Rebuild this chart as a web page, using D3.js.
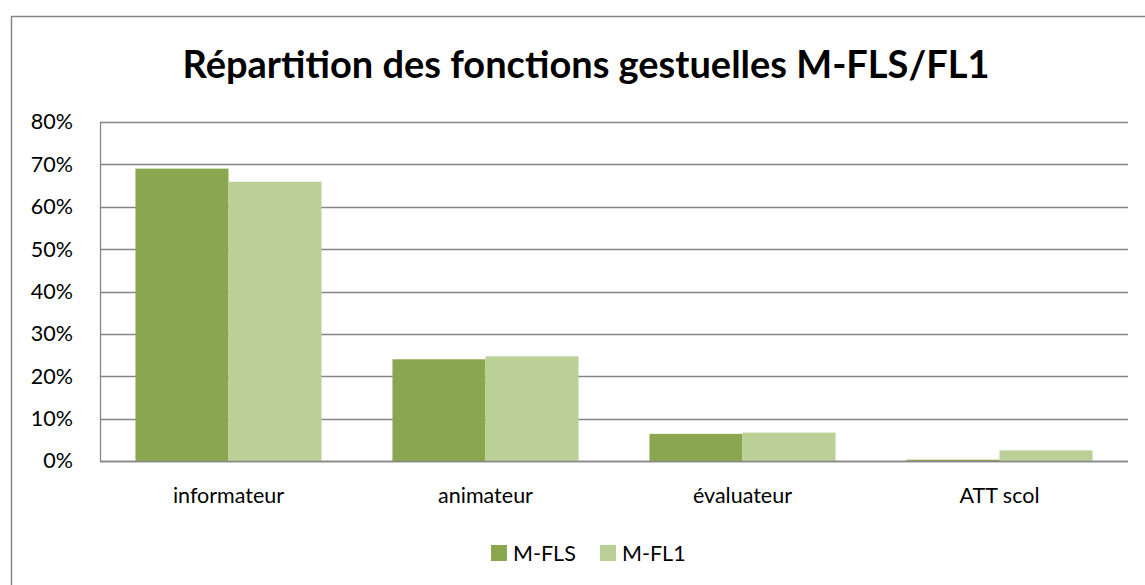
<!DOCTYPE html>
<html>
<head>
<meta charset="utf-8">
<script src="https://cdn.jsdelivr.net/npm/d3@7"></script>
<style>
  html, body { margin: 0; padding: 0; background: #fff; }
  svg { display: block; font-family: Lato, "Open Sans", sans-serif; }
</style>
</head>
<body>
<svg id="chart" width="1145" height="585"></svg>
<script>
// Gesture function shares per group
const categories = ["informateur", "animateur", "évaluateur", "ATT scol"];
const seriesNames = ["M-FLS", "M-FL1"];
const mfls = [0.69, 0.24, 0.064, 0.003];
const mfl1 = [0.659, 0.247, 0.067, 0.025];
const yTicks = [0, 0.1, 0.2, 0.3, 0.4, 0.5, 0.6, 0.7, 0.8];
const colors = ["#8aa64e", "#bbd097"];
const titleText = "Répartition des fonctions gestuelles M-FLS/FL1";

const rows = categories.map((c, i) => ({ category: c, values: [mfls[i], mfl1[i]] }));

const svg = d3.select("#chart");
const W = 1145, H = 585;
const plot = { left: 100, right: 1128, top: 122, bottom: 461 };
const labelSize = 21.5;

// outer frame
svg.append("rect")
  .attr("x", 11.5).attr("y", 16.5)
  .attr("width", W + 20).attr("height", H + 20)
  .attr("fill", "#fff").attr("stroke", "#868686").attr("stroke-width", 1.5);

svg.append("text")
  .attr("x", 586).attr("y", 78)
  .attr("text-anchor", "middle")
  .attr("font-size", 38).attr("font-weight", 700)
  .attr("fill", "#000")
  .text(titleText);

const x0 = d3.scaleBand().domain(categories).range([plot.left, plot.right]).paddingInner(0.276).paddingOuter(0.138);
const x1 = d3.scaleBand().domain(seriesNames).range([0, x0.bandwidth()]);
const y = d3.scaleLinear().domain([0, 0.8]).range([plot.bottom, plot.top]);

// grid lines
svg.append("g").selectAll("line").data(yTicks).join("line")
  .attr("x1", plot.left).attr("x2", plot.right)
  .attr("y1", d => Math.round(y(d)) + 0.5).attr("y2", d => Math.round(y(d)) + 0.5)
  .attr("stroke", "#868686").attr("stroke-width", 1.3);
svg.append("line")
  .attr("x1", plot.left + 0.5).attr("x2", plot.left + 0.5)
  .attr("y1", plot.top).attr("y2", plot.bottom)
  .attr("stroke", "#868686").attr("stroke-width", 1.3);

// bars
const groups = svg.append("g").selectAll("g").data(rows).join("g")
  .attr("transform", d => `translate(${x0(d.category)},0)`);
groups.selectAll("rect").data(d => d.values.map((v, i) => ({ key: seriesNames[i], v, i })))
  .join("rect")
  .attr("x", d => x1(d.key))
  .attr("width", x1.bandwidth())
  .attr("y", d => y(d.v))
  .attr("height", d => y(0) - y(d.v))
  .attr("fill", d => colors[d.i]);

// baseline over bars
svg.append("line")
  .attr("x1", plot.left).attr("x2", plot.right)
  .attr("y1", Math.round(y(0)) + 0.5).attr("y2", Math.round(y(0)) + 0.5)
  .attr("stroke", "#868686").attr("stroke-width", 1.3);

// y axis labels
const yAxis = d3.axisLeft(y).tickValues(yTicks).tickFormat(d3.format(".0%")).tickSize(0).tickPadding(27);
const gy = svg.append("g").attr("transform", `translate(${plot.left},0)`).call(yAxis);
gy.select(".domain").remove();
gy.selectAll("text").attr("font-size", labelSize).attr("fill", "#000").attr("font-family", "Lato, 'Open Sans', sans-serif");

// x axis labels
const xAxis = d3.axisBottom(x0).tickSize(0).tickPadding(27);
const gx = svg.append("g").attr("transform", `translate(0,${plot.bottom})`).call(xAxis);
gx.select(".domain").remove();
gx.selectAll("text").attr("font-size", labelSize).attr("fill", "#000").attr("font-family", "Lato, 'Open Sans', sans-serif");

// legend
const legendX = [491, 600];
const lg = svg.append("g").selectAll("g").data(seriesNames).join("g")
  .attr("transform", (d, i) => `translate(${legendX[i]},545)`);
lg.append("rect").attr("width", 16).attr("height", 16).attr("fill", (d, i) => colors[i]);
lg.append("text").attr("x", 22).attr("y", 16).attr("font-size", labelSize).attr("fill", "#000").text(d => d);
</script>
</body>
</html>
